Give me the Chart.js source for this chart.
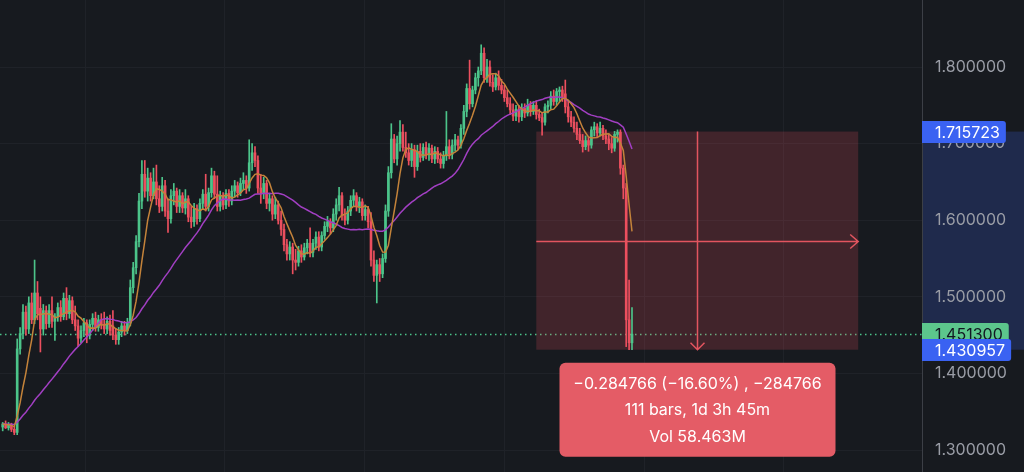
<!DOCTYPE html>
<html>
<head>
<meta charset="utf-8">
<script src="https://cdn.jsdelivr.net/npm/chart.js@4.4.1/dist/chart.umd.min.js"></script>
<style>
  html, body { margin: 0; padding: 0; background: #171a1f; }
  #wrap { width: 1024px; height: 472px; position: relative; }
</style>
</head>
<body>
<div id="wrap"><canvas id="chart"></canvas></div>
<script>
// 15m candles (bar index = time)
const opens = [
  1.330,1.334,1.329,1.333,1.327,1.323,1.432,1.452,1.480,1.458,1.492,1.470,1.505,1.485,1.458,1.482,1.465,1.482,1.468,1.474,
  1.486,1.474,1.498,1.478,1.495,1.470,1.462,1.446,1.456,1.466,1.450,1.464,1.472,1.460,1.470,1.464,1.458,1.468,1.462,1.450,
  1.444,1.454,1.462,1.456,1.466,1.512,1.538,1.572,1.625,1.660,1.638,1.655,1.632,1.650,1.628,1.618,1.645,1.612,1.602,1.632,
  1.638,1.618,1.632,1.616,1.628,1.604,1.598,1.615,1.602,1.622,1.634,1.618,1.636,1.658,1.634,1.618,1.632,1.620,1.635,1.625,
  1.638,1.645,1.636,1.648,1.652,1.642,1.675,1.688,1.678,1.642,1.635,1.648,1.622,1.628,1.608,1.620,1.600,1.588,1.568,1.556,
  1.565,1.548,1.545,1.560,1.552,1.564,1.570,1.558,1.570,1.578,1.565,1.580,1.592,1.598,1.590,1.608,1.620,1.632,1.606,1.600,
  1.612,1.626,1.632,1.618,1.624,1.606,1.614,1.598,1.548,1.528,1.542,1.530,1.550,1.612,1.662,1.706,1.680,1.700,1.715,1.695,
  1.688,1.678,1.692,1.670,1.690,1.682,1.695,1.686,1.694,1.680,1.690,1.680,1.674,1.684,1.696,1.686,1.698,1.705,1.698,1.720,
  1.742,1.772,1.752,1.770,1.786,1.795,1.818,1.786,1.800,1.780,1.774,1.786,1.776,1.770,1.760,1.752,1.744,1.736,1.745,1.735,
  1.746,1.740,1.750,1.742,1.750,1.738,1.734,1.728,1.748,1.750,1.762,1.755,1.768,1.770,1.765,1.748,1.735,1.728,1.720,1.712,
  1.704,1.696,1.704,1.698,1.718,1.722,1.714,1.720,1.710,1.706,1.700,1.694,1.712,1.715,1.668,1.642,1.470,1.440
];
const highs = [
  1.336,1.338,1.336,1.335,1.331,1.445,1.460,1.490,1.488,1.500,1.505,1.548,1.520,1.500,1.490,1.488,1.490,1.500,1.478,1.492,
  1.495,1.505,1.512,1.502,1.500,1.488,1.470,1.462,1.472,1.470,1.470,1.478,1.480,1.476,1.478,1.480,1.474,1.476,1.482,1.458,
  1.460,1.468,1.468,1.472,1.522,1.545,1.580,1.635,1.678,1.678,1.668,1.662,1.668,1.672,1.645,1.656,1.652,1.628,1.640,1.648,
  1.642,1.640,1.636,1.640,1.632,1.618,1.622,1.620,1.628,1.640,1.660,1.642,1.668,1.664,1.658,1.638,1.636,1.640,1.640,1.645,
  1.652,1.650,1.655,1.662,1.658,1.705,1.700,1.696,1.684,1.660,1.656,1.652,1.635,1.632,1.630,1.625,1.612,1.595,1.575,1.572,
  1.570,1.562,1.566,1.568,1.570,1.575,1.590,1.575,1.585,1.585,1.585,1.598,1.605,1.602,1.615,1.628,1.643,1.636,1.615,1.618,
  1.632,1.640,1.636,1.630,1.628,1.620,1.618,1.610,1.560,1.548,1.550,1.556,1.620,1.670,1.726,1.712,1.710,1.730,1.725,1.715,
  1.700,1.700,1.698,1.698,1.700,1.700,1.702,1.700,1.698,1.696,1.695,1.688,1.690,1.742,1.705,1.705,1.712,1.710,1.725,1.750,
  1.778,1.809,1.775,1.792,1.800,1.829,1.825,1.810,1.808,1.790,1.792,1.795,1.784,1.776,1.770,1.760,1.752,1.750,1.750,1.752,
  1.752,1.758,1.755,1.755,1.756,1.745,1.740,1.752,1.756,1.768,1.770,1.772,1.774,1.775,1.783,1.755,1.742,1.735,1.728,1.720,
  1.712,1.710,1.708,1.722,1.728,1.726,1.728,1.724,1.718,1.712,1.708,1.716,1.718,1.718,1.672,1.648,1.522,1.486
];
const lows = [
  1.325,1.328,1.326,1.324,1.320,1.320,1.425,1.445,1.450,1.452,1.465,1.465,1.470,1.428,1.450,1.458,1.460,1.460,1.443,1.468,
  1.468,1.470,1.470,1.472,1.465,1.456,1.435,1.440,1.448,1.440,1.445,1.456,1.455,1.455,1.458,1.452,1.452,1.450,1.444,1.438,
  1.438,1.448,1.450,1.452,1.462,1.505,1.530,1.565,1.615,1.630,1.625,1.625,1.628,1.620,1.610,1.612,1.605,1.584,1.596,1.620,
  1.610,1.610,1.610,1.608,1.598,1.590,1.592,1.595,1.598,1.615,1.612,1.612,1.630,1.628,1.612,1.612,1.614,1.615,1.618,1.620,
  1.630,1.630,1.632,1.640,1.635,1.638,1.665,1.670,1.635,1.622,1.628,1.615,1.612,1.600,1.602,1.595,1.580,1.560,1.548,1.548,
  1.530,1.535,1.540,1.545,1.548,1.556,1.552,1.552,1.562,1.560,1.560,1.575,1.585,1.582,1.585,1.600,1.612,1.600,1.594,1.595,
  1.606,1.618,1.612,1.610,1.600,1.600,1.590,1.540,1.520,1.492,1.520,1.525,1.545,1.605,1.655,1.675,1.672,1.690,1.690,1.682,
  1.672,1.670,1.656,1.665,1.676,1.678,1.680,1.678,1.675,1.674,1.675,1.668,1.668,1.678,1.680,1.680,1.690,1.692,1.694,1.712,
  1.735,1.745,1.748,1.765,1.775,1.790,1.780,1.780,1.775,1.768,1.770,1.770,1.765,1.755,1.748,1.738,1.730,1.730,1.728,1.730,
  1.734,1.736,1.736,1.738,1.732,1.730,1.711,1.724,1.740,1.745,1.750,1.750,1.755,1.755,1.740,1.728,1.722,1.715,1.705,1.700,
  1.689,1.692,1.690,1.694,1.710,1.708,1.710,1.705,1.700,1.692,1.688,1.690,1.702,1.660,1.628,1.435,1.431,1.431
];
const closes = [
  1.334,1.329,1.333,1.327,1.323,1.432,1.452,1.480,1.458,1.492,1.470,1.505,1.478,1.458,1.482,1.465,1.482,1.468,1.474,1.486,
  1.474,1.498,1.478,1.495,1.470,1.462,1.446,1.456,1.466,1.450,1.464,1.472,1.460,1.470,1.464,1.458,1.468,1.456,1.450,1.444,
  1.454,1.462,1.456,1.466,1.512,1.538,1.572,1.625,1.660,1.638,1.655,1.632,1.650,1.628,1.618,1.645,1.612,1.602,1.632,1.638,
  1.618,1.632,1.616,1.628,1.604,1.598,1.615,1.602,1.622,1.634,1.618,1.636,1.658,1.634,1.618,1.632,1.620,1.635,1.625,1.638,
  1.645,1.636,1.648,1.652,1.642,1.675,1.688,1.678,1.642,1.635,1.648,1.622,1.628,1.608,1.620,1.600,1.588,1.568,1.556,1.565,
  1.548,1.545,1.560,1.552,1.564,1.570,1.558,1.570,1.578,1.565,1.580,1.592,1.598,1.590,1.608,1.620,1.632,1.606,1.600,1.612,
  1.626,1.632,1.618,1.624,1.606,1.614,1.598,1.548,1.528,1.542,1.530,1.550,1.612,1.662,1.706,1.680,1.700,1.715,1.695,1.688,
  1.678,1.692,1.670,1.690,1.682,1.695,1.686,1.694,1.680,1.690,1.680,1.674,1.684,1.696,1.686,1.698,1.705,1.698,1.720,1.742,
  1.772,1.752,1.770,1.786,1.795,1.818,1.786,1.800,1.780,1.774,1.786,1.776,1.770,1.760,1.752,1.744,1.736,1.745,1.735,1.746,
  1.740,1.750,1.742,1.750,1.738,1.734,1.728,1.748,1.750,1.762,1.755,1.768,1.770,1.760,1.748,1.735,1.728,1.720,1.712,1.704,
  1.696,1.704,1.698,1.718,1.722,1.714,1.720,1.710,1.706,1.700,1.694,1.712,1.715,1.668,1.642,1.470,1.440,1.4513
];

const yTicks = [1.3, 1.4, 1.5, 1.6, 1.7, 1.8];
const timeGrid = [28.4, 76.6, 124.8, 173.0, 221.2, 269.4];  // 12h separators
const lastPrice = 1.4513;

// measure tool
const measureFromBar = 184, measureToBar = 295;
const measureTop = 1.715723, measureBottom = 1.430957;
const measureText = ['\u22120.284766 (\u221216.60%) , \u2212284766', '111 bars, 1d 3h 45m', 'Vol 58.463M'];

const UP = '#4cc48a', DOWN = '#ec4f5e';
const FONT = 'Inter, "Noto Sans", sans-serif';

function sma(period) {
  return closes.map((c, i) => {
    let s = 0;
    for (let k = i - period + 1; k <= i; k++) s += closes[Math.max(k, 0)];
    return { x: i, y: s / period };
  });
}

const wicks = closes.map((c, i) => ({ x: i, y: [lows[i], highs[i]] }));
const bodies = closes.map((c, i) => ({ x: i, y: [Math.min(opens[i], c), Math.max(opens[i], c)] }));
const colors = closes.map((c, i) => c >= opens[i] ? UP : DOWN);

const noPad = s => { s.paddingTop = 0; s.paddingBottom = 0; s.paddingLeft = 0; s.paddingRight = 0; };

const overlay = {
  id: 'overlay',
  beforeDraw(chart) {
    const { ctx, chartArea, scales: { y } } = chart;
    // price range highlight on the axis
    const t = y.getPixelForValue(measureTop), b = y.getPixelForValue(measureBottom);
    ctx.save();
    ctx.fillStyle = '#1f2a4c';
    ctx.fillRect(chartArea.right + 1, t, chart.width - chartArea.right, b - t);
    ctx.restore();
  },
  beforeDatasetsDraw(chart) {
    const { ctx, chartArea, scales: { x, y } } = chart;
    ctx.save();
    // last price dotted line
    const py = Math.round(y.getPixelForValue(lastPrice)) + 0.5;
    ctx.strokeStyle = UP;
    ctx.lineWidth = 1.5;
    ctx.setLineDash([1.5, 3.5]);
    ctx.beginPath();
    ctx.moveTo(chartArea.left, py);
    ctx.lineTo(chartArea.right, py);
    ctx.stroke();
    ctx.setLineDash([]);
    // measure box
    const x0 = x.getPixelForValue(measureFromBar), x1 = x.getPixelForValue(measureToBar);
    const y0 = y.getPixelForValue(measureTop), y1 = y.getPixelForValue(measureBottom);
    ctx.fillStyle = 'rgba(236, 79, 94, 0.2)';
    ctx.fillRect(x0, y0, x1 - x0, y1 - y0);
    ctx.restore();
  },
  afterDatasetsDraw(chart) {
    const { ctx, scales: { x, y } } = chart;
    const x0 = x.getPixelForValue(measureFromBar), x1 = x.getPixelForValue(measureToBar);
    const y0 = y.getPixelForValue(measureTop), y1 = y.getPixelForValue(measureBottom);
    const xm = Math.round((x0 + x1) / 2) + 0.5, ym = Math.round((y0 + y1) / 2) + 0.5;
    ctx.save();
    ctx.strokeStyle = '#e2555f';
    ctx.lineWidth = 1.5;
    ctx.beginPath();
    ctx.moveTo(x0, ym); ctx.lineTo(x1, ym);
    ctx.moveTo(x1 - 8, ym - 7); ctx.lineTo(x1, ym); ctx.lineTo(x1 - 8, ym + 7);
    ctx.moveTo(xm, y0); ctx.lineTo(xm, y1);
    ctx.moveTo(xm - 7, y1 - 7); ctx.lineTo(xm, y1); ctx.lineTo(xm + 7, y1 - 7);
    ctx.stroke();

    // info label
    const w = 276, h = 94, bx = xm - w / 2, by = y1 + 13;
    ctx.fillStyle = '#e45c66';
    ctx.beginPath();
    ctx.roundRect(bx, by, w, h, 6);
    ctx.fill();
    ctx.fillStyle = '#ffffff';
    ctx.font = '16px ' + FONT;
    ctx.textAlign = 'center';
    ctx.textBaseline = 'middle';
    measureText.forEach((s, k) => ctx.fillText(s, xm, by + 21 + k * 26.5));
    ctx.restore();
  },
  afterDraw(chart) {
    const { ctx, chartArea, scales: { y } } = chart;
    const tag = (v, bg, fg) => {
      const cy = Math.round(y.getPixelForValue(v));
      ctx.font = '16px ' + FONT;
      const txt = v.toFixed(6);
      const tw = ctx.measureText(txt).width;
      const left = chartArea.right, right = chartArea.right + 13 + tw + 6;
      ctx.fillStyle = bg;
      ctx.beginPath();
      ctx.roundRect(left, cy - 11, right - left, 22, [0, 3, 3, 0]);
      ctx.fill();
      ctx.fillStyle = fg;
      ctx.textAlign = 'left';
      ctx.textBaseline = 'middle';
      ctx.fillText(txt, chartArea.right + 13, cy + 1);
    };
    ctx.save();
    tag(lastPrice, '#5cc68c', '#131722');
    tag(measureTop, '#3a62f2', '#ffffff');
    tag(measureBottom, '#3a62f2', '#ffffff');
    ctx.restore();
  }
};

new Chart(document.getElementById('chart'), {
  type: 'bar',
  data: {
    datasets: [
      { type: 'line', data: sma(7), borderColor: '#c4833a', borderWidth: 1.5, pointRadius: 0, tension: 0, order: 0 },
      { type: 'line', data: sma(30), borderColor: '#a23fc3', borderWidth: 1.5, pointRadius: 0, tension: 0, order: 0 },
      { data: bodies, backgroundColor: colors, barThickness: 2, minBarLength: 1, grouped: false, order: 1 },
      { data: wicks, backgroundColor: colors, barThickness: 1, minBarLength: 1, grouped: false, order: 2 }
    ]
  },
  options: {
    responsive: true,
    maintainAspectRatio: false,
    animation: false,
    layout: { padding: 0 },
    plugins: { legend: { display: false }, tooltip: { enabled: false } },
    scales: {
      x: {
        type: 'linear',
        min: -0.93,
        max: 317,
        offset: false,
        afterBuildTicks: s => { s.ticks = timeGrid.map(v => ({ value: v })); },
        afterFit: s => { s.height = 0; noPad(s); },
        ticks: { display: false },
        border: { display: false },
        grid: { color: '#1f2228', drawTicks: false, offset: false }
      },
      y: {
        position: 'right',
        min: 1.2713,
        max: 1.8875,
        afterBuildTicks: s => { s.ticks = yTicks.map(v => ({ value: v })); },
        afterFit: s => { s.width = 102; noPad(s); },
        ticks: {
          color: '#9a9da6',
          padding: 13,
          font: { family: FONT, size: 16 },
          callback: v => v.toFixed(6)
        },
        border: { color: '#3c3f46' },
        grid: { color: '#1f2228', drawTicks: false }
      }
    }
  },
  plugins: [overlay]
});
</script>
</body>
</html>
